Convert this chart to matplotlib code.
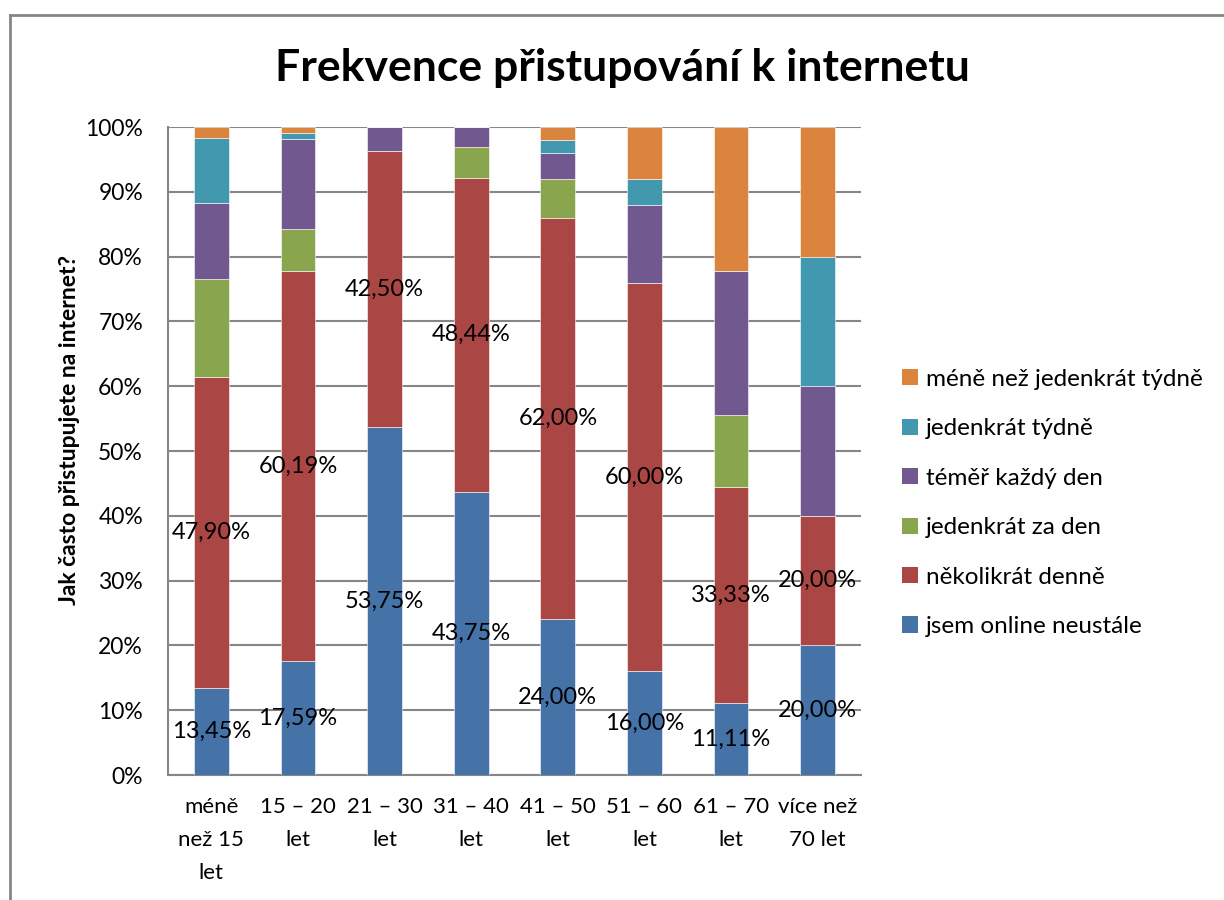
import matplotlib
matplotlib.use("Agg")
import matplotlib.pyplot as plt
import numpy as np
from matplotlib.lines import Line2D
from matplotlib.patches import Patch

plt.rcParams['font.family'] = ['Lato', 'DejaVu Sans']

categories = ["méně\nnež 15\nlet", "15 – 20\nlet", "21 – 30\nlet", "31 – 40\nlet",
              "41 – 50\nlet", "51 – 60\nlet", "61 – 70\nlet", "více než\n70 let"]

series_names = ["jsem online neustále", "několikrát denně", "jedenkrát za den",
                "téměř každý den", "jedenkrát týdně", "méně než jedenkrát týdně"]

online = [13.45, 17.59, 53.75, 43.75, 24.00, 16.00, 11.11, 20.00]
several_daily = [47.90, 60.19, 42.50, 48.44, 62.00, 60.00, 33.33, 20.00]
once_daily = [15.13, 6.48, 0.00, 4.69, 6.00, 0.00, 11.11, 0.00]
almost_daily = [11.76, 13.89, 3.75, 3.13, 4.00, 12.00, 22.22, 20.00]
weekly = [10.08, 0.93, 0.00, 0.00, 2.00, 4.00, 0.00, 20.00]
less_weekly = [1.68, 0.93, 0.00, 0.00, 2.00, 8.00, 22.22, 20.00]

colors = ["#4572A7", "#AA4643", "#89A54E", "#71588F", "#4198AF", "#DB843D"]

data = [online, several_daily, once_daily, almost_daily, weekly, less_weekly]

fig = plt.figure(figsize=(12.24, 9), dpi=100)
ax = fig.add_axes([168/1224, 1-775/900, (861-168)/1224, (775-127)/900])

x = np.arange(len(categories))
bottom = np.zeros(len(categories))
handles = []
for i, (vals, col, name) in enumerate(zip(data, colors, series_names)):
    vals = np.array(vals)
    ax.bar(x, vals, 0.40, bottom=bottom, color=col, edgecolor='white', linewidth=0.4, zorder=3)
    if i < 2:
        for xi, b, v in zip(x, bottom, vals):
            ax.text(xi, b + v/2, f"{v:.2f}%".replace('.', ','), ha='center', va='center',
                    fontsize=17, color='black', zorder=5)
    bottom += vals
    handles.append(Patch(facecolor=col, edgecolor='none', label=name))

ax.set_xlim(-0.5, len(categories)-0.5)
ax.set_ylim(0, 100)
ax.set_yticks(np.arange(0, 101, 10))
ax.set_yticklabels([f"{t}%" for t in range(0, 101, 10)], fontsize=16.5)
ax.set_xticks(x)
ax.set_xticklabels(categories, fontsize=16, linespacing=1.8)
ax.tick_params(axis='both', length=0)
ax.tick_params(axis='y', pad=18)
ax.tick_params(axis='x', pad=16)
ax.yaxis.grid(True, color='#868686', linewidth=1.5, zorder=0)
for s in ['top', 'right']:
    ax.spines[s].set_visible(False)
for s in ['left', 'bottom']:
    ax.spines[s].set_color('#868686')
    ax.spines[s].set_linewidth(1.5)

fig.text(622/1224, 1-68/900, "Frekvence přistupování k internetu", ha='center', va='center',
         fontsize=32, fontweight='bold')
fig.text(70/1224, 1-430/900, "Jak často přistupujete na internet?", ha='center', va='center',
         rotation=90, fontsize=16.5, fontweight='bold')

leg = fig.legend(handles=handles[::-1], loc='center left', bbox_to_anchor=(880/1224, 1-503/900),
                 frameon=False, fontsize=17.5, handlelength=0.65, handleheight=0.65,
                 handletextpad=0.35, labelspacing=1.17)

# outer chart border (cropped)
fig.add_artist(Line2D([10/1224, 10/1224], [0, 1-15/900], transform=fig.transFigure,
                      color='#868686', linewidth=2))
fig.add_artist(Line2D([10/1224, 1], [1-15/900, 1-15/900], transform=fig.transFigure,
                      color='#868686', linewidth=2))

fig.savefig("out.png", dpi=100, facecolor='white')
